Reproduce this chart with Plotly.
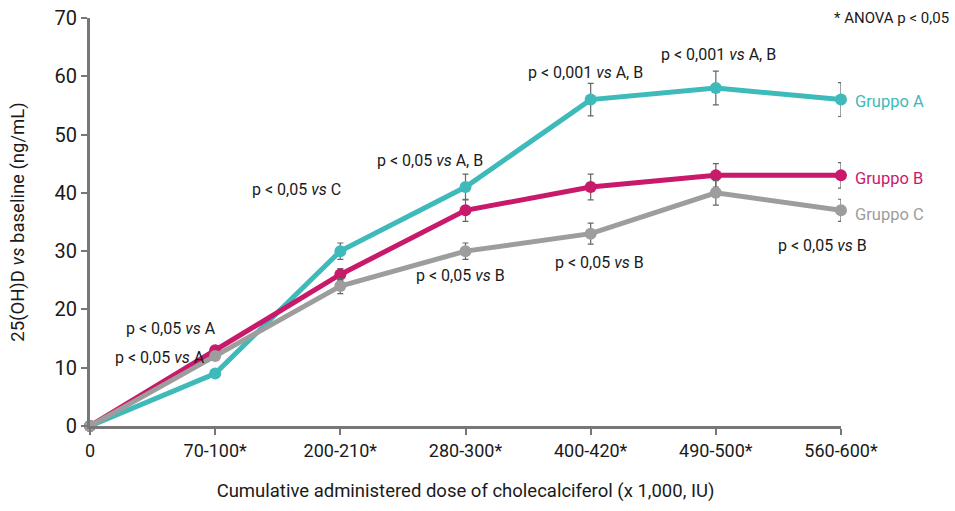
import plotly.graph_objects as go

categories = ["0", "70-100*", "200-210*", "280-300*", "400-420*", "490-500*", "560-600*"]
x_idx = list(range(len(categories)))

group_names = ["Gruppo A", "Gruppo B", "Gruppo C"]
values_a = [0, 9, 30, 41, 56, 58, 56]
values_b = [0, 13, 26, 37, 41, 43, 43]
values_c = [0, 12, 24, 30, 33, 40, 37]
err_a = [0, 0, 1.4, 2.2, 2.8, 2.9, 2.9]
err_b = [0, 0, 1.0, 1.9, 2.2, 2.0, 2.2]
err_c = [0, 0, 1.3, 1.4, 1.8, 2.1, 1.9]

colors = ["#3dbab9", "#c8196a", "#9d9d9d"]

# annotation texts with (x index, y value) anchor
p_texts = [
    ("p < 0,05 <i>vs</i> A", 0.65, 16.8),
    ("p < 0,05 <i>vs</i> A", 0.56, 11.8),
    ("p < 0,05 <i>vs</i> C", 1.65, 40.5),
    ("p < 0,05 <i>vs</i> A, B", 2.72, 45.6),
    ("p < 0,001 <i>vs</i> A, B", 3.96, 60.7),
    ("p < 0,001 <i>vs</i> A, B", 5.02, 63.8),
    ("p < 0,001 <i>vs</i> A, B", 6.03, 60.7),
    ("p < 0,05 <i>vs</i> B", 2.96, 25.9),
    ("p < 0,05 <i>vs</i> B", 4.07, 28.0),
    ("p < 0,05 <i>vs</i> B", 5.85, 31.0),
]
label_y = [55.6, 42.4, 36.3]

FONT = "Roboto, Liberation Sans, sans-serif"
TXT = "#1a1a1a"

fig = go.Figure()
for name, vals, errs, col in zip(group_names, [values_a, values_b, values_c],
                                 [err_a, err_b, err_c], colors):
    fig.add_trace(go.Scatter(
        x=x_idx, y=vals, mode="lines+markers", name=name,
        line=dict(color=col, width=5),
        marker=dict(color=col, size=12),
        error_y=dict(type="data", array=errs, visible=True,
                     color="#666666", thickness=1.2, width=3),
        cliponaxis=False,
    ))

annotations = []
for txt, xv, yv in p_texts:
    annotations.append(dict(x=xv, y=yv, xref="x", yref="y", text=txt,
                            showarrow=False, font=dict(size=16, color=TXT, family=FONT)))

for name, yv, col in zip(group_names, label_y, colors):
    annotations.append(dict(x=6, y=yv, xref="x", yref="y", text=name,
                            showarrow=False, xanchor="left", xshift=12,
                            font=dict(size=16.5, color=col, family=FONT)))

annotations.append(dict(x=1.147, y=1.0, xref="paper", yref="paper", xanchor="right",
                        yanchor="middle", text="* ANOVA p < 0,05",
                        showarrow=False, font=dict(size=15, color=TXT, family=FONT)))

fig.update_layout(
    width=955, height=511,
    margin=dict(l=90, r=114, t=18, b=85, autoexpand=False),
    paper_bgcolor="white", plot_bgcolor="white",
    showlegend=False,
    font=dict(family=FONT, size=18, color=TXT),
    annotations=annotations,
    xaxis=dict(
        range=[0, 6], tickmode="array", tickvals=x_idx, ticktext=categories,
        showline=True, linecolor="#777777", linewidth=3,
        ticks="outside", tickcolor="#777777", ticklen=6, tickwidth=1.5,
        showgrid=False, zeroline=False, automargin=False,
        ticklabeloverflow="allow",
        tickfont=dict(size=18, family=FONT, color=TXT),
        title=dict(text="Cumulative administered dose of cholecalciferol (x 1,000, IU)",
                   font=dict(size=18.5, family=FONT, color=TXT), standoff=25),
    ),
    yaxis=dict(
        range=[0, 70], tickvals=[0, 10, 20, 30, 40, 50, 60, 70],
        showline=True, linecolor="#777777", linewidth=3,
        ticks="outside", tickcolor="#777777", ticklen=6, tickwidth=1.5,
        showgrid=False, zeroline=False, automargin=False,
        ticklabeloverflow="allow",
        tickfont=dict(size=20, family=FONT, color=TXT),
        title=dict(text="25(OH)D <i>vs</i> baseline (ng/mL)",
                   font=dict(size=18.5, family=FONT, color=TXT), standoff=26),
    ),
)

# remove the page's default body margin so the figure fills the window exactly
fig.write_html("out.html",
               config={"displayModeBar": False},
               post_script="document.body.style.margin='0';document.body.style.overflow='hidden';")
